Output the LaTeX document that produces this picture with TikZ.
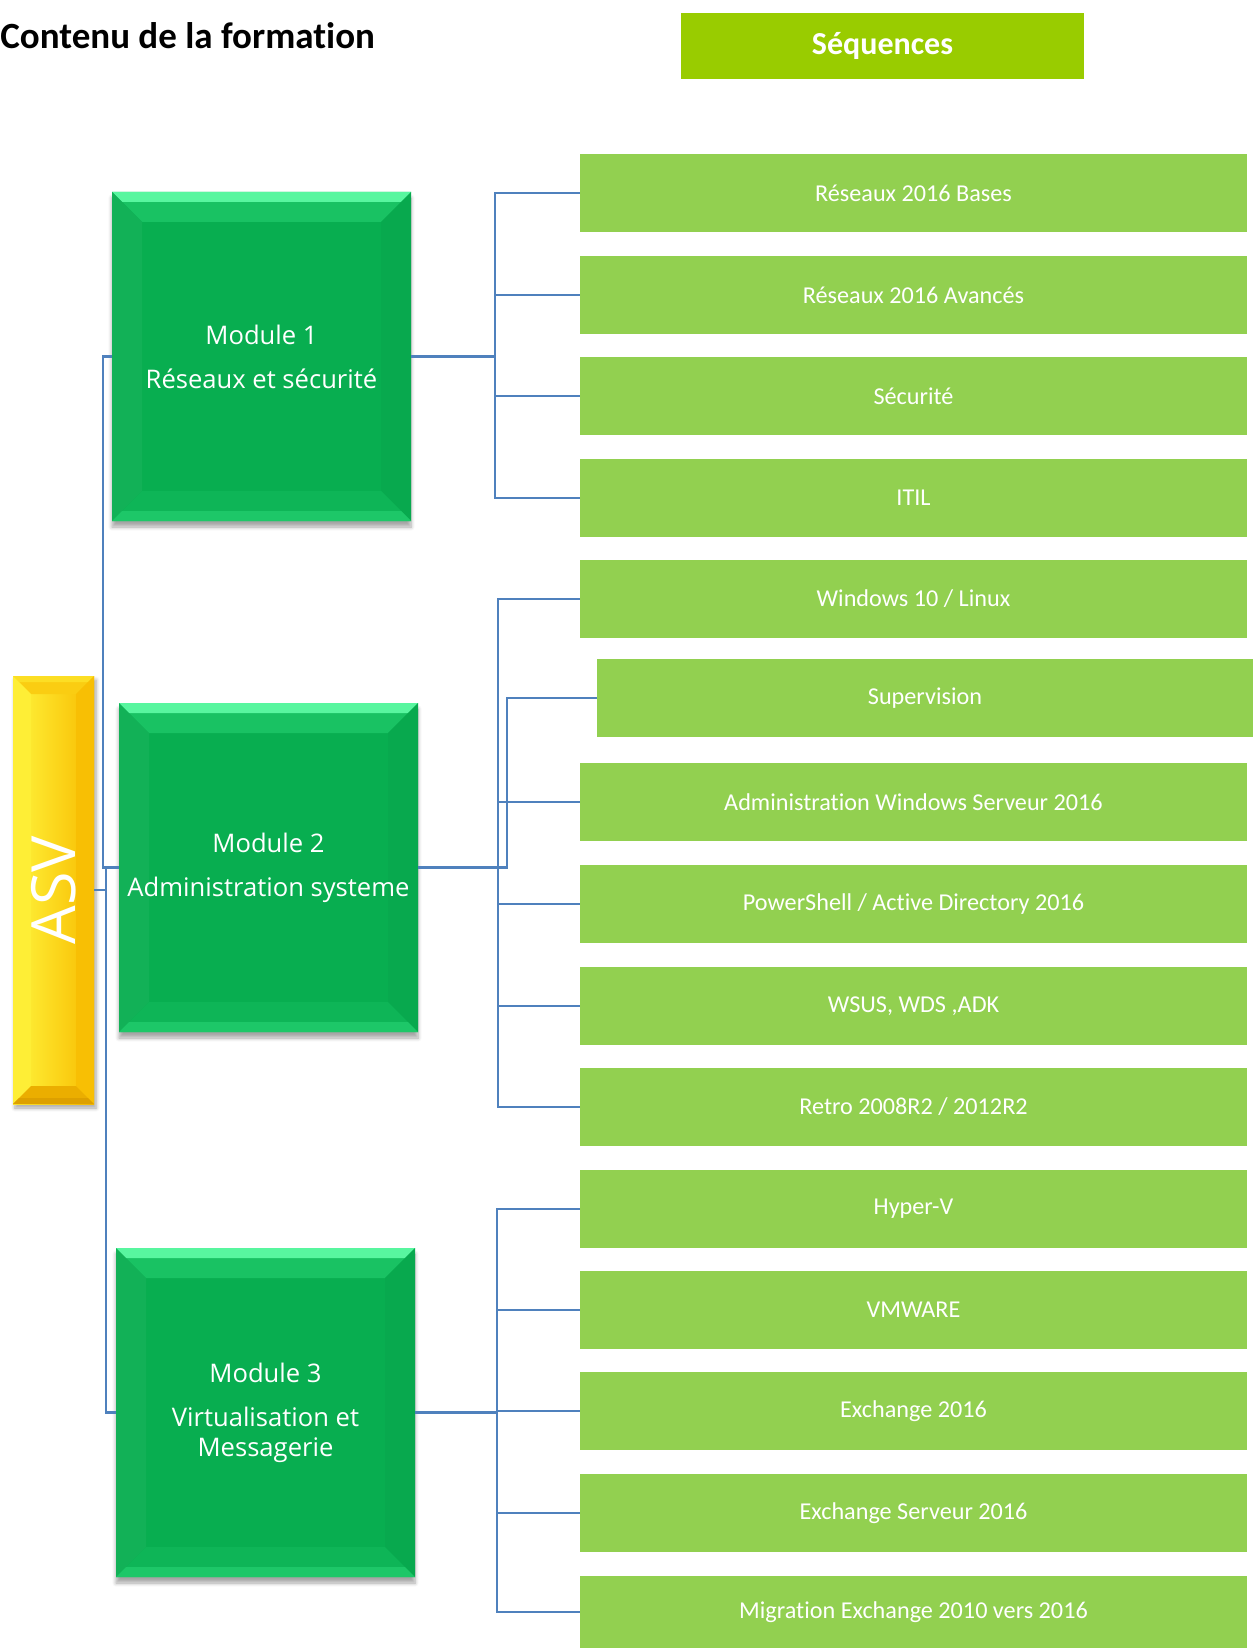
\documentclass[tikz,border=0pt]{standalone}
\usepackage{fontspec}
\setmainfont{Carlito}[Ligatures=NoCommon]
\newfontfamily\modfont{Open Sans}
\usetikzlibrary{calc}
\usetikzlibrary{positioning}
\usetikzlibrary{shadows.blur}

\definecolor{lienbleu}{HTML}{4F81BD}
\definecolor{seqvert}{HTML}{92D050}
\definecolor{titrevert}{HTML}{99CC00}
\definecolor{modvert}{HTML}{08AE50}
\definecolor{modclair}{HTML}{45F594}
\definecolor{asvjaune}{HTML}{F8BC00}
\definecolor{asvclair}{HTML}{FFF43C}
\definecolor{asvfonce}{HTML}{DDA000}

% bevel of a box: depth, top, top edge, left, right, bottom, bottom edge
\newcommand{\biseau}[7]{%
  \fill[#2] (path picture bounding box.north west) -- (path picture bounding box.north east)
    -- ++(-#1,-#1) -- ($(path picture bounding box.north west)+(#1,-#1)$) -- cycle;
  \fill[#3] (path picture bounding box.north west) -- (path picture bounding box.north east)
    -- ++(-#1/3,-#1/3) -- ($(path picture bounding box.north west)+(#1/3,-#1/3)$) -- cycle;
  \fill[#4] (path picture bounding box.north west) -- (path picture bounding box.south west)
    -- ++(#1,#1) -- ($(path picture bounding box.north west)+(#1,-#1)$) -- cycle;
  \fill[#5] (path picture bounding box.north east) -- (path picture bounding box.south east)
    -- ++(-#1,#1) -- ($(path picture bounding box.north east)+(-#1,-#1)$) -- cycle;
  \fill[#6] (path picture bounding box.south west) -- (path picture bounding box.south east)
    -- ++(-#1,#1) -- ($(path picture bounding box.south west)+(#1,#1)$) -- cycle;
  \fill[#7] (path picture bounding box.south west) -- (path picture bounding box.south east)
    -- ++(-#1/3,#1/3) -- ($(path picture bounding box.south west)+(#1/3,#1/3)$) -- cycle;
}

\tikzset{
  lien/.style={draw=lienbleu, line width=1.4pt},
  seqbox/.style={fill=seqvert, text=white, minimum width=333.5pt, minimum height=39pt,
    inner sep=0pt, font=\fontsize{12.1}{14}\selectfont},
  modbox/.style={fill=modvert, text=white, align=center, inner sep=0pt,
    minimum width=149.5pt, minimum height=164.5pt, font=\modfont\fontsize{12.8}{15}\selectfont,
    blur shadow={shadow xshift=0pt, shadow yshift=-3pt, shadow blur steps=6, shadow opacity=35},
    path picture={\biseau{15pt}{modvert!72!modclair}{modclair!90!white}{modvert!96!white}{modvert!97!black}{modvert!90!modclair}{modvert!65!modclair}}},
  asvbox/.style={left color=asvclair, right color=asvjaune, text=white, inner sep=0pt,
    minimum width=40.5pt, minimum height=214pt, font=\modfont\fontsize{30.5}{32}\selectfont,
    blur shadow={shadow xshift=1pt, shadow yshift=-2pt, shadow blur steps=5, shadow opacity=35},
    path picture={\biseau{9pt}{asvjaune!70!asvclair}{asvclair!60!asvjaune}{asvclair!90!asvjaune}{asvjaune!94!asvclair}{asvfonce!50!asvjaune}{asvfonce}}}
}

\begin{document}
\begin{tikzpicture}[x=0.5pt, y=-0.5pt]
\useasboundingbox (0,0) rectangle (1253,1648);

% titles
\node[anchor=west, inner sep=0pt, font=\bfseries\fontsize{18.5}{22}\selectfont] (titre) at (0,36) {Contenu de la formation};
\node[fill=titrevert, text=white, minimum width=201.5pt, minimum height=33pt, font=\bfseries\fontsize{16}{19}\selectfont] (seqtitre) at (882.5,46) {Séquences};

% ASV and modules
\node[asvbox] (asv) at (53.5,890) {\rotatebox{90}{ASV}};
\node[modbox] (m1) at (261.5,356.5) {Module 1\\[7pt]Réseaux et sécurité};
\node[modbox] (m2) at (268.5,867.5) {Module 2\\[7pt]Administration systeme};
\node[modbox] (m3) at (265.5,1412.5) {Module 3\\[7pt]Virtualisation et\\Messagerie};

% sequences
\foreach \n/\x/\y/\t in {1/913.5/193/{Réseaux 2016 Bases}, 2/913.5/295/{Réseaux 2016 Avancés},
  3/913.5/396/{Sécurité}, 4/913.5/498/{ITIL}, 5/913.5/599/{Windows 10 / Linux},
  7/913.5/802/{Administration Windows Serveur 2016}, 8/913.5/904/{PowerShell / Active Directory 2016},
  9/913.5/1006/{WSUS, WDS ,ADK}, 10/913.5/1107/{Retro 2008R2 / 2012R2}, 11/913.5/1209/{Hyper-V},
  12/913.5/1310/{VMWARE}, 13/913.5/1411/{Exchange 2016}, 14/913.5/1513/{Exchange Serveur 2016}}
  \node[seqbox] (s\n) at (\x,\y) {\t};
\node[seqbox, minimum width=328pt] (s6) at (925,698) {Supervision};
\node[seqbox, minimum height=36pt] (s15) at (913.5,1612) {Migration Exchange 2010 vers 2016};

% links ASV -> modules
\coordinate (tr1) at (103,600);
\coordinate (tr2) at (106,1100);
\draw[lien] (m1.west) -| (tr1) |- (m2.west);
\draw[lien] (asv.east) -| (tr2) |- (m3.west);
\draw[lien] (tr2 |- asv.east) |- (m2.west);

% links modules -> sequences
\coordinate (b1) at (495,356.5);
\coordinate (b2) at (498,867.5);
\coordinate (b2s) at (507,867.5);
\coordinate (b3) at (497,1412.5);
\draw[lien] (m1.east) -- (b1);
\foreach \n in {1,...,4}
  \draw[lien] (b1) |- (s\n.west);
\draw[lien] (m2.east) -- (b2s) |- (s6.west);
\foreach \n in {5,7,8,9,10}
  \draw[lien] (b2) |- (s\n.west);
\draw[lien] (m3.east) -- (b3);
\foreach \n in {11,...,15}
  \draw[lien] (b3) |- (s\n.west);
\end{tikzpicture}
\end{document}
